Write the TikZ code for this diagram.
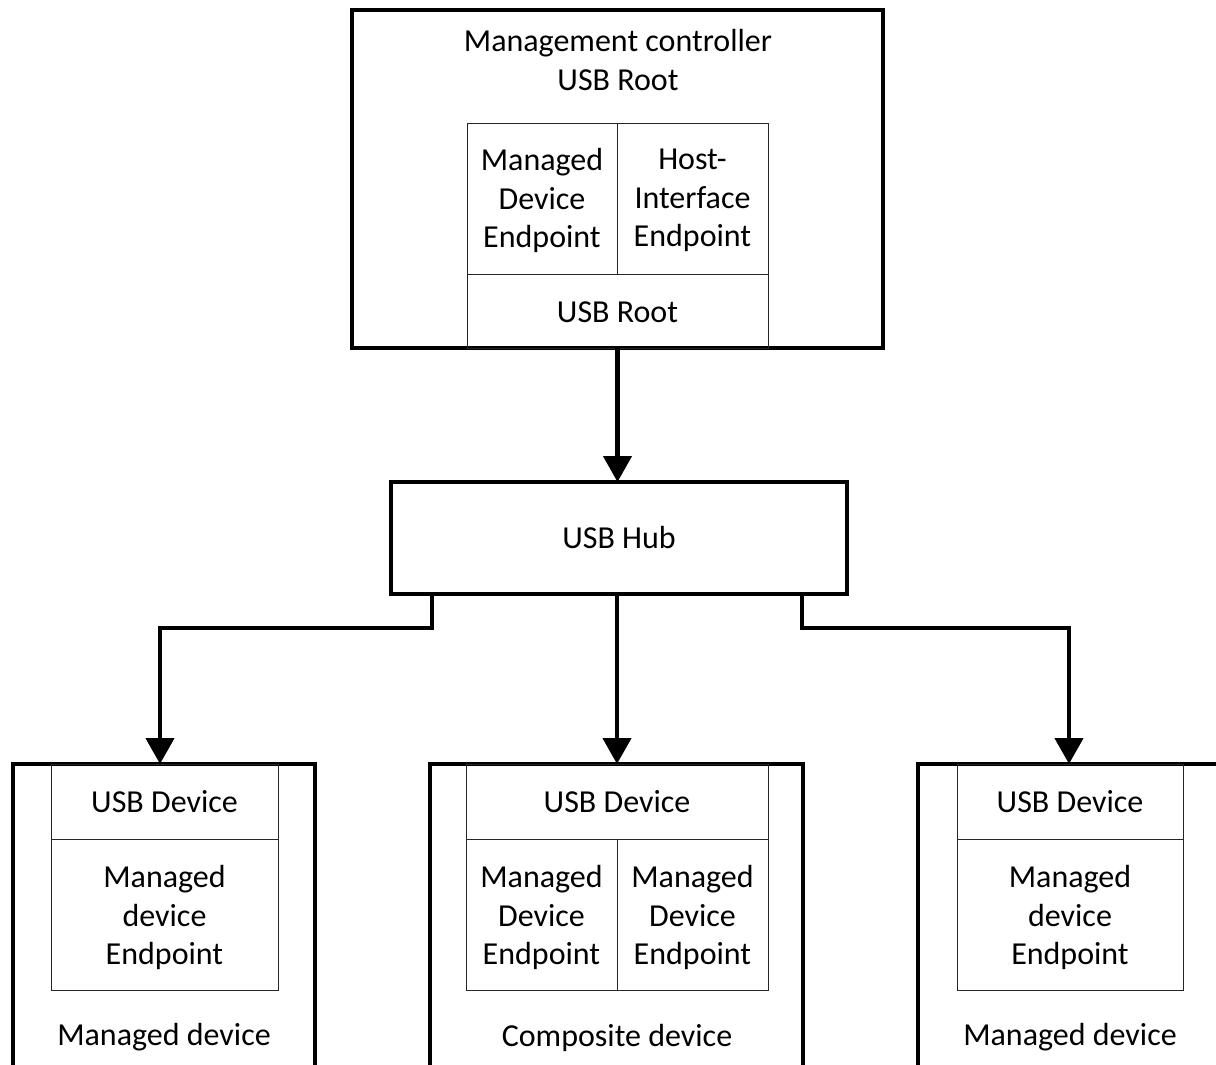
\documentclass[tikz,border=0pt]{standalone}
\usepackage{fontspec}
\setmainfont{Carlito}
\usetikzlibrary{arrows.meta}
\tikzset{
  txt/.style={font=\fontsize{32}{38.5}\selectfont, align=center},
  outerbox/.style={draw=black, line width=4.5pt, minimum width=#1, inner sep=0pt, outer sep=0pt},
  cell/.style={draw=black!85, line width=1pt, inner sep=0pt},
  conn/.style={line width=4.5pt, -{Triangle[length=26pt,width=28pt]}},
  lbl/.style={txt, inner sep=0pt}
}
\begin{document}
\begin{tikzpicture}[x=1pt,y=-1pt]
\useasboundingbox (0,0) rectangle (1216,1065);
\clip (0,0) rectangle (1216,1065);
% top management controller
\node[outerbox=531pt, minimum height=338pt] (mc) at (617.5,179) {};
\node[lbl] (mctext) at (618,60) {Management controller\\USB Root};
\node[cell, minimum width=150pt, minimum height=151pt] (mde) at (542,198.5) {};
\node[lbl] (mdet) at (542,200.5) {Managed\\Device\\Endpoint};
\node[cell, minimum width=151pt, minimum height=151pt] (hie) at (692.5,198.5) {};
\node[lbl] (hiet) at (692.5,200.5) {Host-\\Interface\\Endpoint};
\node[cell, minimum width=301pt, minimum height=74pt] (root) at (617.5,311) {};
\node[lbl] (roott) at (617.5,312) {USB Root};
% hub
\node[outerbox=456pt, minimum height=112pt, txt] (hub) at (619,538) {USB Hub};
% bottom left
\node[outerbox=302pt, minimum height=311pt] (md1) at (164,919.5) {};
\node[cell, minimum width=227pt, minimum height=75pt] (ud1) at (164.5,801.5) {};
\node[lbl] (ud1t) at (164.5,802) {USB Device};
\node[cell, minimum width=227pt, minimum height=151pt] (ep1) at (164.5,914.5) {};
\node[lbl] (ep1t) at (164.5,917.5) {Managed\\device\\Endpoint};
\node[lbl] (l1) at (164,1037) {Managed device};
% bottom middle
\node[outerbox=373pt, minimum height=311pt] (cd) at (616.5,919.5) {};
\node[cell, minimum width=302pt, minimum height=75pt] (ud2) at (617,801.5) {};
\node[lbl] (ud2t) at (617,802) {USB Device};
\node[cell, minimum width=151pt, minimum height=151pt] (ep2a) at (541.5,914.5) {};
\node[lbl] (ep2at) at (541.5,917.5) {Managed\\Device\\Endpoint};
\node[cell, minimum width=151pt, minimum height=151pt] (ep2b) at (692.5,914.5) {};
\node[lbl] (ep2bt) at (692.5,917.5) {Managed\\Device\\Endpoint};
\node[lbl] (l2) at (617,1038) {Composite device};
% bottom right
\node[outerbox=307pt, minimum height=311pt] (md2) at (1071.5,919.5) {};
\node[cell, minimum width=226pt, minimum height=75pt] (ud3) at (1070,801.5) {};
\node[lbl] (ud3t) at (1070,802) {USB Device};
\node[cell, minimum width=226pt, minimum height=151pt] (ep3) at (1070,914.5) {};
\node[lbl] (ep3t) at (1070,917.5) {Managed\\device\\Endpoint};
\node[lbl] (l3) at (1070,1037) {Managed device};
% connectors
\coordinate (b1) at (432,628);
\coordinate (b3) at (802,628);
\coordinate (t1) at (160,764);
\coordinate (t3) at (1069,764);
\draw[conn] (mc.south -| root.south) -- (root.south |- hub.north);
\draw[conn] (hub.south -| b1) -- (b1) -| (t1);
\draw[conn] (ud2.north |- hub.south) -- (ud2.north |- t1);
\draw[conn] (hub.south -| b3) -- (b3) -| (t3);
\end{tikzpicture}
\end{document}
